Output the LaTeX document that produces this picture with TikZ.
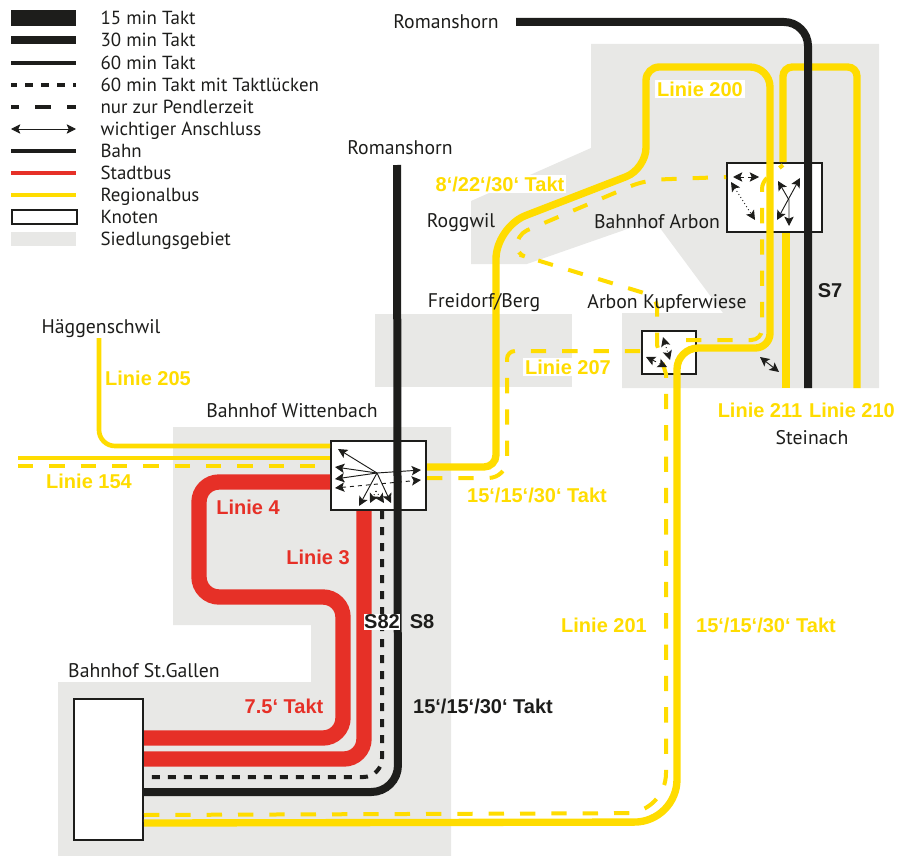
\documentclass[tikz,border=0pt]{standalone}
\usepackage{fontspec}
\setmainfont{PT Sans}
\newfontfamily\taktfont{Liberation Sans}
\usetikzlibrary{arrows.meta}
\definecolor{bahnblack}{HTML}{1D1D1B}
\definecolor{stadtred}{HTML}{E63027}
\definecolor{regionyellow}{HTML}{FFDC00}
\definecolor{siedlung}{HTML}{E8E8E6}
\tikzset{
ort/.style={font=\fontsize{14.8}{17}\selectfont,text=bahnblack,inner sep=1pt},
legende/.style={font=\fontsize{14.2}{17}\selectfont,text=bahnblack,inner sep=1pt,anchor=west,text height=12.5pt,text depth=2.5pt},
takt/.style={font=\taktfont\fontsize{15}{18}\selectfont\bfseries,inner sep=1.5pt},
gelbtakt/.style={takt,text=regionyellow},
rottakt/.style={takt,text=stadtred},
schwarztakt/.style={takt,text=bahnblack},
bahn/.style={draw=bahnblack,line width=6pt},
taktluecke/.style={draw=bahnblack,line width=3pt,dash pattern=on 6pt off 6pt},
pendel/.style={draw=regionyellow,line width=3pt,dash pattern=on 11.5pt off 12pt},
stadtbus/.style={draw=stadtred,line width=11.5pt},
regio/.style={draw=regionyellow,line width=5.5pt},
regiofein/.style={draw=regionyellow,line width=3.5pt},
knoten/.style={draw=bahnblack,fill=white,line width=1.5pt,inner sep=0pt},
grau/.style={fill=siedlung,draw=none},
anschluss/.style={{Stealth[inset=1.5pt,length=7pt,width=7pt]}-{Stealth[inset=1.5pt,length=7pt,width=7pt]},draw=bahnblack,line width=0.7pt},
einfach/.style={-{Stealth[inset=1.5pt,length=7pt,width=7pt]},draw=bahnblack,line width=0.7pt},
}
\begin{document}
\begin{tikzpicture}[x=0.75pt,y=-0.75pt]
\useasboundingbox (0,0) rectangle (907,856);
\fill[grau] (173,427) -- (451,427) -- (451,856) -- (58,856) -- (58,682) -- (311,682) -- (311,625) -- (173,625) -- cycle;
\fill[grau] (591,44) -- (879,44) -- (879,388) -- (622,388) -- (622,313) -- (723,313) -- (660,228) -- (633,227) -- (527,264) -- (471,264) -- (471,201) -- (591,148) -- cycle;
\fill[grau] (375,314) -- (572,314) -- (572,387) -- (375,387) -- cycle;

\coordinate (legstart) at (11,0);
\coordinate (legstop) at (76,0);
\node[legende] (leg15) at (99,18) {15 min Takt};
\node[legende] (leg30) at (99,40) {30 min Takt};
\node[legende] (leg60) at (99,63) {60 min Takt};
\node[legende] (legluecke) at (99,85) {60 min Takt mit Taktlücken};
\node[legende] (legpendel) at (99,107) {nur zur Pendlerzeit};
\node[legende] (leganschluss) at (99,129) {wichtiger Anschluss};
\node[legende] (legbahn) at (99,151) {Bahn};
\node[legende] (legstadt) at (99,173) {Stadtbus};
\node[legende] (legregio) at (99,195) {Regionalbus};
\node[legende] (legknoten) at (99,217) {Knoten};
\node[legende] (legsiedlung) at (99,239) {Siedlungsgebiet};
\draw[draw=bahnblack,line width=12pt] (legstart |- leg15) -- (legstop |- leg15);
\draw[draw=bahnblack,line width=6pt] (legstart |- leg30) -- (legstop |- leg30);
\draw[draw=bahnblack,line width=3pt] (legstart |- leg60) -- (legstop |- leg60);
\draw[taktluecke,dash phase=1.5pt] (legstart |- legluecke) -- (legstop |- legluecke);
\draw[draw=bahnblack,line width=3.5pt,dash pattern=on 12pt off 12pt,dash phase=6pt] (legstart |- legpendel) -- (legstop |- legpendel);
\draw[anschluss] (legstart |- leganschluss) -- (legstop |- leganschluss);
\draw[draw=bahnblack,line width=3pt] (legstart |- legbahn) -- (legstop |- legbahn);
\draw[draw=stadtred,line width=3pt] (legstart |- legstadt) -- (legstop |- legstadt);
\draw[draw=regionyellow,line width=3pt] (legstart |- legregio) -- (legstop |- legregio);
\node[knoten,anchor=west,minimum width=48.75pt,minimum height=10.5pt] (knotenbox) at (legstart |- legknoten) {};
\node[grau,anchor=west,minimum width=48.75pt,minimum height=10.5pt,inner sep=0pt] (siedlungbox) at (legstart |- legsiedlung) {};

\node[knoten,minimum width=71.25pt,minimum height=51.75pt] (wittenbach) at (378.5,475.5) {};
\node[knoten,minimum width=71.25pt,minimum height=51.75pt] (arbon) at (774.5,197.5) {};
\node[knoten,minimum width=40.5pt,minimum height=32.25pt] (kupferwiese) at (669,352.5) {};
\node[knoten,minimum width=51.75pt,minimum height=105.75pt] (stgallen) at (108.5,769.5) {};
\coordinate (haeggen) at (99,338);
\coordinate (west154) at (18,458);
\coordinate (west154d) at (18,466);
\coordinate (roman1) at (397,165);
\coordinate (roman2) at (516,22);
\coordinate (steinach) at (808,388);
\coordinate (end211) at (786,388);
\coordinate (end210) at (857,388);

\draw[regiofein] (haeggen) [rounded corners=12pt] -- (99,446) -- (wittenbach.west |- 0,446);
\draw[regiofein] (west154) -- (wittenbach.west |- 0,458);
\draw[pendel] (west154d) -- (wittenbach.west |- 0,466);
\draw[regio] (end211) -- (arbon.south -| 786,0);
\draw[regio] (arbon.north -| 783,0) [rounded corners=7pt] -- (783,67) -- (857,67) -- (end210);
\draw[stadtbus] (wittenbach.west |- 0,482) [rounded corners=15pt] -- (199,482) -- (199,597) -- (343,597) -- (343,738) -- (stgallen.east |- 0,738);
\draw[stadtbus] (wittenbach.south -| 364,0) [rounded corners=15pt] -- (364,759) -- (stgallen.east |- 0,759);
\draw[taktluecke] (wittenbach.south -| 382,0) [rounded corners=14pt] -- (382,777) -- (stgallen.east |- 0,777);
\draw[bahn] (roman1) [rounded corners=20pt] -- (398,792) -- (stgallen.east |- 0,792);
\draw[bahn] (roman2) [rounded corners=18pt] -- (808,22) -- (steinach);
\draw[regio] (wittenbach.east |- 0,467) [rounded corners=9pt] -- (496,467) [rounded corners=24pt] -- (496,227) [rounded corners=16pt] -- (646,169) [rounded corners=10pt] -- (646,67) [rounded corners=15pt] -- (770,67) [rounded corners=11pt] -- (770,348) [rounded corners=16pt] -- (677,348) [rounded corners=32pt] -- (677,822) -- (stgallen.east |- 0,823);
\draw[pendel] (stgallen.east |- 0,815) [rounded corners=30pt] -- (666,813) [sharp corners] -- (666,374) -- (657,345) [rounded corners=8pt] -- (657,297) -- (530,258) [rounded corners=6pt] -- (517,254) [rounded corners=9pt] -- (516,235) [rounded corners=12pt] -- (645,180) -- (arbon.west |- 0,177);
\draw[pendel] (wittenbach.east |- 0,478) [rounded corners=14pt] -- (507,478) [rounded corners=6pt] -- (507,351) -- (kupferwiese.west |- 0,351);
\draw[pendel] (686,340) [rounded corners=8pt] -- (762,340) [rounded corners=5pt] -- (762,182) -- (783,165);

\coordinate (hubwitt) at (377,473);
\foreach \ziel in {(338,449),(335,467),(335,479),(359,506),(391,503),(421,470)}
\draw[einfach] (hubwitt) -- \ziel;
\draw[anschluss,dashed] (335,488) -- (421,480);
\draw[einfach,dotted] (376,491) -- (370,503);
\draw[einfach,dotted] (376,491) -- (384,503);
\draw[anschluss,dashed] (733,177) -- (759,177);
\draw[anschluss,dotted] (731,182) -- (755,220);
\draw[anschluss] (800,178) -- (777,220);
\draw[anschluss] (778,181) -- (789,200) -- (789,226);
\draw[anschluss,dotted] (663,337) -- (670,360);
\draw[anschluss,dashed] (646,357) -- (667,367);
\draw[anschluss] (760,357) -- (779,372);

\node[ort] (romanshorn1) at (446,22) {Romanshorn};
\node[ort] (romanshorn2) at (400,148) {Romanshorn};
\node[ort] (haeggenschwil) at (101,329) {Häggenschwil};
\node[ort] (bfwittenbach) at (292,411) {Bahnhof Wittenbach};
\node[ort] (roggwil) at (461,223) {Roggwil};
\node[ort] (bfarbon) at (657,222) {Bahnhof Arbon};
\node[ort] (freidorf) at (484,303) {Freidorf/Berg};
\node[ort] (arbonkupfer) at (667,303) {Arbon Kupferwiese};
\node[ort] (steinachname) at (812,438) {Steinach};
\node[ort] (bfstgallen) at (144,671) {Bahnhof St.Gallen};

\node[gelbtakt,fill=white] (lin200) at (700,89) {Linie 200};
\node[gelbtakt,fill=white] (takt8) at (500,184) {8‘/22‘/30‘ Takt};
\node[gelbtakt] (lin205) at (148,378) {Linie 205};
\node[gelbtakt] (lin154) at (89,481) {Linie 154};
\node[gelbtakt,fill=white] (lin207) at (568,367) {Linie 207};
\node[gelbtakt] (lin211) at (760,410) {Linie 211};
\node[gelbtakt] (lin210) at (852,410) {Linie 210};
\node[gelbtakt] (takt15a) at (537,495) {15‘/15‘/30‘ Takt};
\node[gelbtakt] (lin201) at (604,625) {Linie 201};
\node[gelbtakt] (takt15b) at (766,625) {15‘/15‘/30‘ Takt};
\node[rottakt] (lin4) at (248,507) {Linie 4};
\node[rottakt] (lin3) at (318,557) {Linie 3};
\node[rottakt] (takt75) at (284,706) {7.5‘ Takt};
\node[schwarztakt,fill=white,inner sep=0.5pt] (s82) at (382,622) {S82};
\node[schwarztakt] (s8) at (422,622) {S8};
\node[schwarztakt] (s7) at (830,291) {S7};
\node[schwarztakt] (takt15c) at (483,706) {15‘/15‘/30‘ Takt};
\end{tikzpicture}
\end{document}
